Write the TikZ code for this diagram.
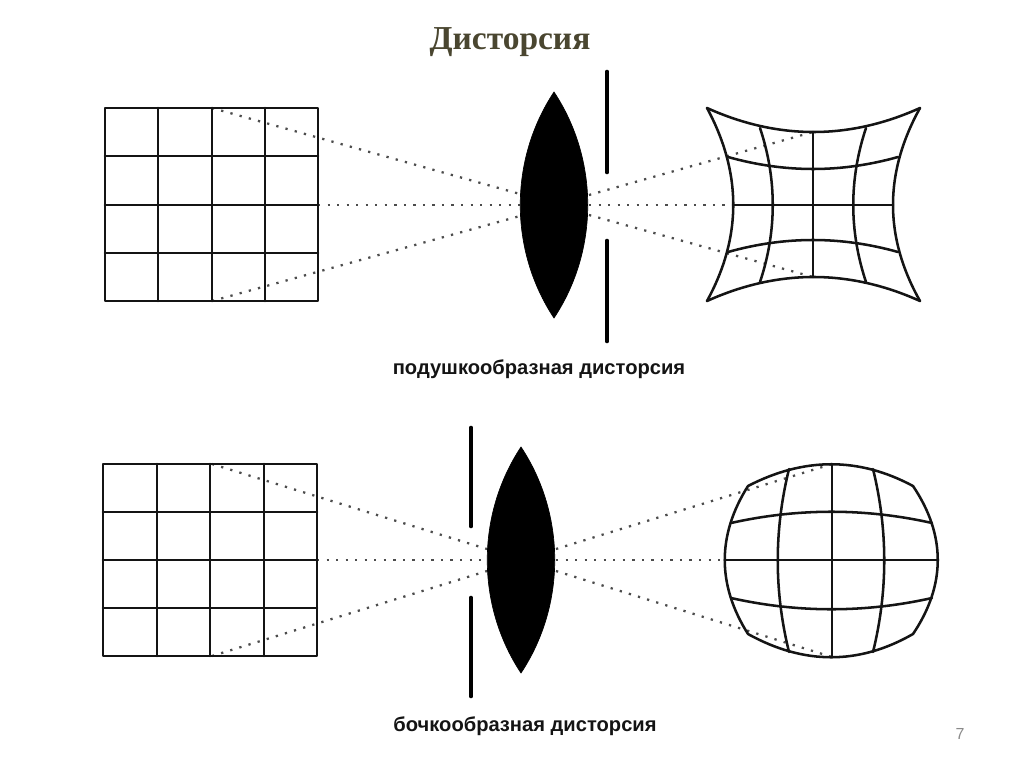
\documentclass[tikz,border=0pt]{standalone}
\usepackage{fontspec}
\setmainfont{Liberation Serif}
\newfontfamily\labelfont{Liberation Sans}
\definecolor{titlecol}{HTML}{4A4630}
\definecolor{numcol}{HTML}{8A8A8A}
\tikzset{
  gridline/.style={line width=1.9pt,black!92,line cap=round,line join=round},
  raysty/.style={line width=1.7pt,black!70,dash pattern=on 1.7pt off 5.45pt},
  stopbar/.style={line width=3.5pt,black,line cap=round},
  lensbody/.style={fill=black,draw=black,line width=.5pt},
  captionlab/.style={font=\labelfont\bfseries\fontsize{15.1}{18}\selectfont,text=black!92,inner sep=0pt},
}
\begin{document}
\begin{tikzpicture}[x=.75pt,y=-.75pt]
\useasboundingbox (0,0) rectangle (1024,767);
\node[font=\bfseries\fontsize{25.1}{30}\selectfont,text=titlecol,inner sep=0pt] (title) at (510,42) {Дисторсия};
\node[captionlab] (cap1) at (539,369) {подушкообразная дисторсия};
\node[captionlab] (cap2) at (525,726) {бочкообразная дисторсия};
\node[font=\labelfont\fontsize{12}{14}\selectfont,text=numcol,inner sep=0pt] (pagenum) at (960,734) {7};

% top: rays
\draw[raysty] (212,108) -- (520,194);
\draw[raysty] (318,205) -- (520,205);
\draw[raysty] (212,301) -- (520,216);
\draw[raysty] (589,195) -- (813,132);
\draw[raysty] (589,205) -- (733,205);
\draw[raysty] (589,215) -- (813,277);
% top: grid
\draw[gridline] (105,108) rectangle (318,301);
\foreach \y in {156,205,253} \draw[gridline] (105,\y) -- (318,\y);
\foreach \x in {158,212,265} \draw[gridline] (\x,108) -- (\x,301);
% top: lens and stop
\draw[lensbody] (554,92) .. controls (509,160) and (509,250) .. (554,318) .. controls (599,250) and (599,160) .. (554,92) -- cycle;
\draw[stopbar] (607,72) -- (607,172);
\draw[stopbar] (607,241) -- (607,341);
% pincushion
\draw[gridline] (707,108) .. controls (778,140) and (849,140) .. (920,108);
\draw[gridline] (707,301) .. controls (778,269) and (849,269) .. (920,301);
\draw[gridline] (707,108) .. controls (742,173) and (742,237) .. (707,301);
\draw[gridline] (920,108) .. controls (884,173) and (884,237) .. (920,301);
\draw[gridline] (728,157) .. controls (785,173) and (841,173) .. (898,157);
\draw[gridline] (728,252) .. controls (785,236) and (841,236) .. (898,252);
\draw[gridline] (760,128) .. controls (777,179) and (777,231) .. (760,282);
\draw[gridline] (866,128) .. controls (849,179) and (849,231) .. (866,282);
\draw[gridline] (733,205) -- (893,205);
\draw[gridline] (813,132) -- (813,277);

% bottom: rays
\draw[raysty] (212,464) -- (487,549);
\draw[raysty] (317,560) -- (487,560);
\draw[raysty] (212,656) -- (487,571);
\draw[raysty] (556,549) -- (832,464);
\draw[raysty] (556,560) -- (725,560);
\draw[raysty] (556,571) -- (832,657);
% bottom: grid
\draw[gridline] (103,464) rectangle (317,656);
\foreach \y in {512,560,608} \draw[gridline] (103,\y) -- (317,\y);
\foreach \x in {157,210,264} \draw[gridline] (\x,464) -- (\x,656);
% bottom: lens and stop
\draw[lensbody] (521,447) .. controls (476,515) and (476,605) .. (521,673) .. controls (566,605) and (566,515) .. (521,447) -- cycle;
\draw[stopbar] (471,428) -- (471,526);
\draw[stopbar] (471,598) -- (471,696);
% barrel
\draw[gridline] (748,486) .. controls (804,457) and (859,457) .. (913,486) .. controls (946,535) and (946,585) .. (913,634) .. controls (859,665) and (804,665) .. (748,634) .. controls (717,585) and (717,535) .. (748,486) -- cycle;
\draw[gridline] (731,523) .. controls (798,508) and (865,508) .. (932,523);
\draw[gridline] (731,598) .. controls (798,613) and (865,613) .. (932,598);
\draw[gridline] (789,469) .. controls (774,530) and (774,591) .. (789,652);
\draw[gridline] (873,469) .. controls (888,530) and (888,591) .. (873,652);
\draw[gridline] (725,560) -- (938,560);
\draw[gridline] (832,464) -- (832,657);
\end{tikzpicture}
\end{document}
